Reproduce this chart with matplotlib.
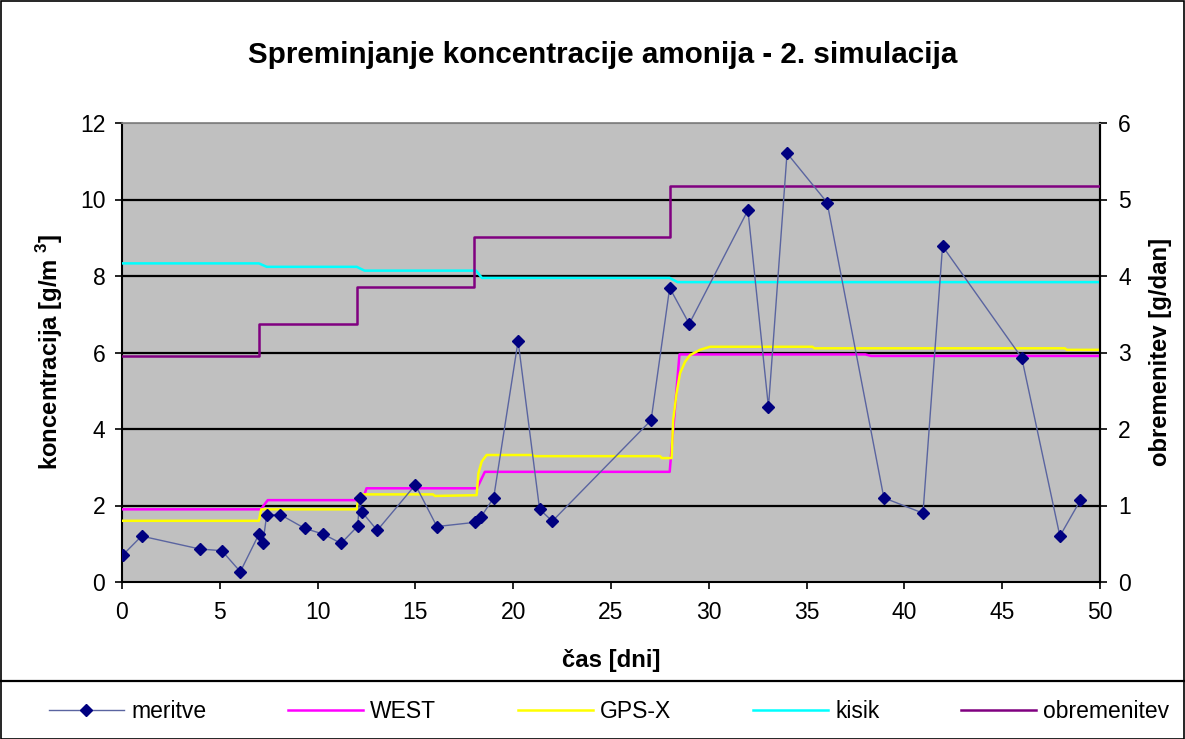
import matplotlib
matplotlib.use("Agg")
import matplotlib.pyplot as plt
from matplotlib.lines import Line2D
from matplotlib.patches import Rectangle

plt.rcParams['font.family'] = ['Liberation Sans', 'DejaVu Sans']
plt.rcParams['mathtext.fontset'] = 'custom'
plt.rcParams['mathtext.rm'] = 'Liberation Sans'
plt.rcParams['mathtext.bf'] = 'Liberation Sans:bold'

# ---- data ----
t_meas = [0.05, 1.0, 4.0, 5.1, 6.05, 7.0, 7.2, 7.4, 8.1, 9.35, 10.3, 11.2, 12.05, 12.15, 12.25,
          13.05, 15.0, 16.1, 18.05, 18.35, 19.0, 20.25, 21.35, 22.0, 27.05, 28.0, 29.0, 32.0,
          33.05, 34.0, 36.05, 38.95, 40.95, 41.95, 46.0, 47.95, 49.0]
c_meas = [0.71, 1.20, 0.86, 0.82, 0.27, 1.25, 1.01, 1.76, 1.76, 1.40, 1.25, 1.01, 1.46, 2.20, 1.84,
          1.35, 2.54, 1.45, 1.56, 1.70, 2.20, 6.30, 1.90, 1.59, 4.23, 7.69, 6.75, 9.72,
          4.57, 11.21, 9.92, 2.20, 1.80, 8.78, 5.86, 1.20, 2.14]

t_west = [0, 7.1, 7.45, 12.3, 12.5, 18.15, 18.55, 28.0, 28.5, 38.0, 38.3, 50]
c_west = [1.90, 1.90, 2.14, 2.14, 2.45, 2.45, 2.88, 2.88, 5.95, 5.95, 5.91, 5.91]

t_gps = [0, 7.0, 7.12, 12.0, 12.12, 15.9, 16.0, 18.13, 18.22, 18.39, 18.64, 21.0, 21.1, 27.5,
         27.6, 28.1, 28.18, 28.35, 28.53, 28.79, 29.04, 29.55, 30.06, 35.3, 35.4, 48.2, 48.3, 50]
c_gps = [1.60, 1.60, 1.90, 1.90, 2.29, 2.29, 2.25, 2.27, 2.84, 3.15, 3.32, 3.32, 3.29, 3.29,
         3.24, 3.24, 4.24, 4.93, 5.46, 5.76, 5.93, 6.07, 6.15, 6.15, 6.11, 6.11, 6.07, 6.07]

t_kis = [0, 7.0, 7.4, 12.0, 12.4, 18.1, 18.4, 28.0, 28.4, 50]
c_kis = [8.33, 8.33, 8.24, 8.24, 8.14, 8.14, 7.95, 7.95, 7.84, 7.84]

t_obr = [0, 7, 12, 18, 28, 50]
l_obr = [2.95, 3.37, 3.85, 4.51, 5.18, 5.18]

x_ticks = [0, 5, 10, 15, 20, 25, 30, 35, 40, 45, 50]
y_ticks = [0, 2, 4, 6, 8, 10, 12]
y2_ticks = [0, 1, 2, 3, 4, 5, 6]

title = "Spreminjanje koncentracije amonija - 2. simulacija"
labels = ["meritve", "WEST", "GPS-X", "kisik", "obremenitev"]

# ---- figure ----
W, H = 1185, 739
fig = plt.figure(figsize=(W / 100, H / 100), dpi=100)
fs = 16.5
fsl = 17.2

ax = fig.add_axes([122 / W, 1 - 582 / H, (1100 - 122) / W, (582 - 123) / H])
ax.set_facecolor('#C0C0C0')
ax.set_xlim(0, 50)
ax.set_ylim(0, 12)
ax.set_xticks(x_ticks)
ax.set_yticks(y_ticks)
for y in y_ticks[1:-1]:
    ax.axhline(y, color='black', lw=1.6, zorder=1)

ax.plot(t_west, c_west, color='#FF00FF', lw=1.8, zorder=3)
ax.plot(t_gps, c_gps, color='#FFFF00', lw=1.8, zorder=3)
ax.plot(t_kis, c_kis, color='#00FFFF', lw=1.8, zorder=3)

ax.tick_params(axis='both', direction='out', length=5, width=1.2, labelsize=fs, color='black')
ax.tick_params(axis='y', pad=7)
ax.tick_params(axis='x', pad=9)
for s in ['left', 'bottom']:
    ax.spines[s].set_color('black')
    ax.spines[s].set_linewidth(1.5)
ax.spines['top'].set_color('#808080')
ax.spines['top'].set_linewidth(1.2)
ax.spines['right'].set_color('black')
ax.spines['right'].set_linewidth(1.5)

ax2 = ax.twinx()
ax2.set_ylim(0, 6)
ax2.set_yticks(y2_ticks)
ax2.step(t_obr, l_obr, where='post', color='#800080', lw=1.8, zorder=3)
ax2.plot(t_meas, [v / 2 for v in c_meas], color='#5A64A0', lw=1.0, marker='D',
         markersize=6, markerfacecolor='#000080', markeredgecolor='#000080', zorder=5)
ax2.tick_params(axis='y', direction='out', length=5, width=1.2, labelsize=fs, pad=8)
ax2.spines['right'].set_color('black')
ax2.spines['right'].set_linewidth(1.5)
ax2.spines['top'].set_color('#808080')
ax2.spines['left'].set_visible(False)
ax2.spines['bottom'].set_visible(False)

# texts
fig.text(603 / W, 1 - 55 / H, title, ha='center', va='center', fontsize=21.3, fontweight='bold')
fig.text(611 / W, 1 - 660 / H, "čas [dni]", ha='center', va='center', fontsize=fsl, fontweight='bold')
fig.text(50 / W, 1 - 352 / H, r"koncentracija [g/m $^{\mathbf{3}}$]", ha='center', va='center',
         rotation=90, fontsize=fsl, fontweight='bold')
fig.text(1161 / W, 1 - 352 / H, "obremenitev [g/dan]", ha='center', va='center',
         rotation=90, fontsize=fsl, fontweight='bold')

# separator + border
fig.add_artist(Line2D([0, 1], [1 - 681 / H, 1 - 681 / H], color='black', lw=1.6,
                      transform=fig.transFigure))
fig.add_artist(Rectangle((0.5 / W, 0.5 / H), 1 - 1.5 / W, 1 - 1.5 / H, fill=False,
                         edgecolor='black', lw=1.2, transform=fig.transFigure))

handles = [
    Line2D([], [], color='#5A64A0', lw=1.0, marker='D', markersize=6,
           markerfacecolor='#000080', markeredgecolor='#000080'),
    Line2D([], [], color='#FF00FF', lw=1.8),
    Line2D([], [], color='#FFFF00', lw=1.8),
    Line2D([], [], color='#00FFFF', lw=1.8),
    Line2D([], [], color='#800080', lw=1.8),
]
fig.legend(handles, labels, loc='center', bbox_to_anchor=(609 / W, 1 - 712 / H), ncol=5,
           frameon=False, fontsize=fs, handlelength=3.3, handletextpad=0.3,
           columnspacing=3.55, borderaxespad=0, borderpad=0)

fig.savefig('out.png', dpi=100, facecolor='white')
